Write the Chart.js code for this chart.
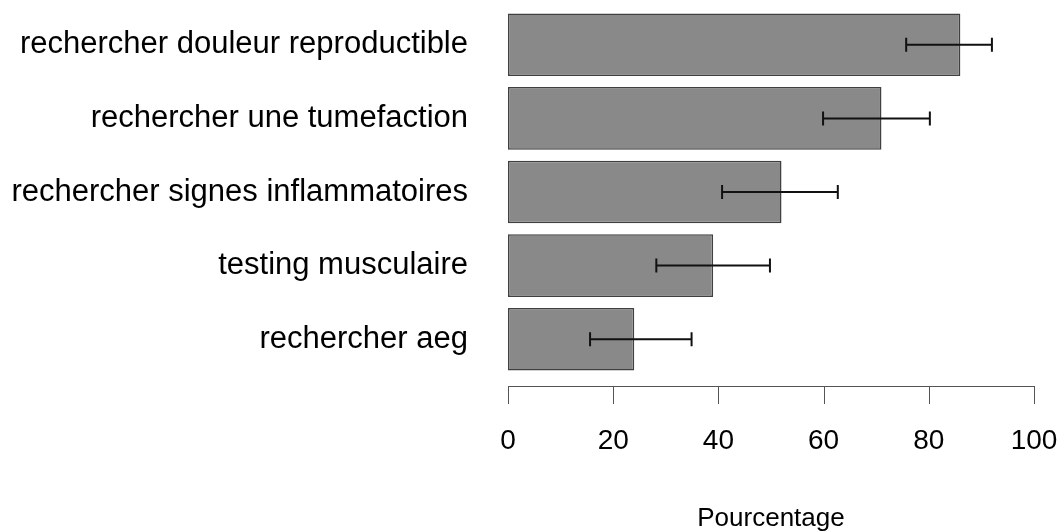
<!DOCTYPE html>
<html lang="fr">
<head>
<meta charset="utf-8">
<title>Pourcentage</title>
<script src="https://cdn.jsdelivr.net/npm/chart.js@4/dist/chart.umd.min.js"></script>
<style>
  html, body { margin: 0; padding: 0; background: #fff; }
  #graphe { display: block; }
</style>
</head>
<body>
<canvas id="graphe" width="1063" height="532"></canvas>
<script>
// données ---------------
const categories = [
  "rechercher douleur reproductible",
  "rechercher une tumefaction",
  "rechercher signes inflammatoires",
  "testing musculaire",
  "rechercher aeg"
];
const pourcentages = [86, 71, 52, 39, 24];
const icBas = [75.7, 59.9, 40.7, 28.2, 15.6];
const icHaut = [92.0, 80.2, 62.7, 49.8, 34.9];
const graduations = [0, 20, 40, 60, 80, 100];

// barres d'erreur (intervalle de confiance)
const barresErreur = {
  id: "barresErreur",
  afterDatasetsDraw(chart) {
    const ctx = chart.ctx;
    const xs = chart.scales.x;
    const meta = chart.getDatasetMeta(0);
    ctx.save();
    ctx.strokeStyle = "#111";
    ctx.lineWidth = 2;
    meta.data.forEach((bar, i) => {
      const y = bar.y;
      const x1 = xs.getPixelForValue(icBas[i]);
      const x2 = xs.getPixelForValue(icHaut[i]);
      ctx.beginPath();
      ctx.moveTo(x1, y); ctx.lineTo(x2, y);
      ctx.moveTo(x1, y - 7); ctx.lineTo(x1, y + 7);
      ctx.moveTo(x2, y - 7); ctx.lineTo(x2, y + 7);
      ctx.stroke();
    });
    ctx.restore();
  }
};

// axe des x décalé sous les barres
const axeBas = {
  id: "axeBas",
  afterDraw(chart) {
    const ctx = chart.ctx;
    const xs = chart.scales.x;
    const y0 = chart.chartArea.bottom + 10;
    ctx.save();
    ctx.strokeStyle = "#555";
    ctx.lineWidth = 1;
    ctx.beginPath();
    ctx.moveTo(xs.getPixelForValue(graduations[0]), y0 + 0.5);
    ctx.lineTo(xs.getPixelForValue(graduations[graduations.length - 1]), y0 + 0.5);
    graduations.forEach(v => {
      const x = Math.round(xs.getPixelForValue(v)) + 0.5;
      ctx.moveTo(x, y0);
      ctx.lineTo(x, y0 + 18);
    });
    ctx.stroke();
    ctx.restore();
  }
};

const ctx = document.getElementById("graphe").getContext("2d");
new Chart(ctx, {
  type: "bar",
  data: {
    labels: categories,
    datasets: [{
      data: pourcentages,
      backgroundColor: "#898989",
      borderColor: "#404040",
      borderWidth: 1.5,
      borderSkipped: false,
      barPercentage: 0.85,
      categoryPercentage: 1
    }]
  },
  options: {
    indexAxis: "y",
    responsive: false,
    devicePixelRatio: 1,
    animation: false,
    layout: { padding: { top: 8, right: 29, bottom: 0, left: 0 } },
    plugins: {
      legend: { display: false },
      tooltip: { enabled: false }
    },
    scales: {
      x: {
        type: "linear",
        min: 0,
        max: 100,
        afterBuildTicks(scale) {
          scale.ticks = graduations.map(v => ({ value: v }));
        },
        afterFit(scale) {
          scale.height = 156;
          scale.paddingLeft = 0;
          scale.paddingRight = 0;
        },
        grid: { display: false },
        border: { display: false },
        ticks: {
          color: "#000",
          font: { family: "'Liberation Sans', Arial, sans-serif", size: 28 },
          padding: 40,
          maxRotation: 0
        },
        title: {
          display: true,
          text: "Pourcentage",
          color: "#000",
          font: { family: "'Liberation Sans', Arial, sans-serif", size: 26 },
          padding: { top: 0, bottom: -2 }
        }
      },
      y: {
        afterFit(scale) {
          scale.width = 508;
          scale.paddingTop = 0;
          scale.paddingBottom = 0;
        },
        grid: { display: false },
        border: { display: false },
        ticks: {
          color: "#000",
          font: { family: "'Liberation Sans', Arial, sans-serif", size: 31 },
          padding: 32
        }
      }
    }
  },
  plugins: [barresErreur, axeBas]
});
</script>
</body>
</html>
